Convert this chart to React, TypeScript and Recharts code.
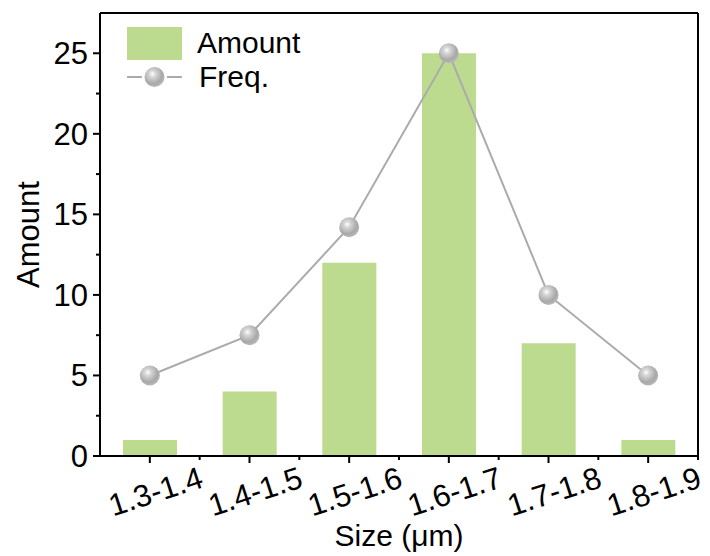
import React from "react";
import {
  ComposedChart,
  Bar,
  Line,
  XAxis,
  YAxis,
} from "recharts";

const sizes = ["1.3-1.4", "1.4-1.5", "1.5-1.6", "1.6-1.7", "1.7-1.8", "1.8-1.9"];
const amounts = [1, 4, 12, 25, 7, 1];
const freqs = [5, 7.5, 14.2, 25, 10, 5];
const yTicks = [0, 2.5, 5, 7.5, 10, 12.5, 15, 17.5, 20, 22.5, 25];

const data = sizes.map((s, i) => ({ size: s, amount: amounts[i], freq: freqs[i] }));

const FONT = "'Liberation Sans', Arial, sans-serif";
const BAR = "#bddb8f";
const LINE = "#ababab";

function Sphere({ cx, cy, r, id }: { cx: number; cy: number; r: number; id: string }) {
  return (
    <g>
      <defs>
        <radialGradient id={id} cx="40%" cy="35%" r="65%">
          <stop offset="0%" stopColor="#ffffff" />
          <stop offset="25%" stopColor="#d6d6d6" />
          <stop offset="75%" stopColor="#a8a8a8" />
          <stop offset="100%" stopColor="#b8b8b8" />
        </radialGradient>
      </defs>
      <circle cx={cx} cy={cy} r={r} fill={`url(#${id})`} />
    </g>
  );
}

const renderDot = (props: any) => {
  const { cx, cy, index } = props;
  return <Sphere key={`dot-${index}`} cx={cx} cy={cy} r={10} id={`sph-${index}`} />;
};

const XTick = (props: any) => {
  const { x, y, payload, width, visibleTicksCount } = props;
  const band = width / (visibleTicksCount || sizes.length);
  const tx = x + 6;
  const ty = y + 38;
  return (
    <g>
      <line x1={x} y1={y - 8} x2={x} y2={y - 1} stroke="#000" strokeWidth={2} />
      <line x1={x + band / 2} y1={y - 8} x2={x + band / 2} y2={y - 4} stroke="#000" strokeWidth={2} />
      <text
        x={tx}
        y={ty}
        textAnchor="middle"
        fontSize={31}
        fontFamily={FONT}
        fill="#000"
        transform={`rotate(-18, ${tx}, ${ty - 10})`}
      >
        {payload.value}
      </text>
    </g>
  );
};

const YTick = (props: any) => {
  const { x, y, payload } = props;
  const major = payload.value % 5 === 0;
  return (
    <g>
      <line x1={x + 8} y1={y} x2={x + (major ? 1 : 4)} y2={y} stroke="#000" strokeWidth={2} />
      {major && (
        <text x={x - 4} y={y + 11} textAnchor="end" fontSize={31} fontFamily={FONT} fill="#000">
          {payload.value}
        </text>
      )}
    </g>
  );
};

function ChartLegend() {
  return (
    <div
      style={{
        position: "absolute",
        left: 127,
        top: 26,
        fontFamily: FONT,
        fontSize: 30,
        color: "#000",
        lineHeight: "34px",
      }}
    >
      <div style={{ display: "flex", alignItems: "center" }}>
        <div style={{ width: 55, height: 33, background: BAR, marginRight: 15 }} />
        <span>Amount</span>
      </div>
      <div style={{ display: "flex", alignItems: "center" }}>
        <svg width={55} height={24} style={{ marginRight: 17 }}>
          <line x1={0} y1={12} x2={55} y2={12} stroke={LINE} strokeWidth={2} />
          <rect x={15} y={0} width={25} height={24} fill="#fff" />
          <Sphere cx={27.5} cy={12} r={10} id="sph-legend" />
        </svg>
        <span>Freq.</span>
      </div>
    </div>
  );
}

export default function App() {
  return (
    <div style={{ position: "absolute", left: 0, top: 0, width: 710, height: 556, background: "#fff" }}>
      <ComposedChart
        width={710}
        height={556}
        data={data}
        margin={{ top: 12, right: 11, bottom: 0, left: 0 }}
        barCategoryGap={0}
      >
        <XAxis
          dataKey="size"
          xAxisId="bottom"
          height={100}
          axisLine={{ stroke: "#000", strokeWidth: 2 }}
          tickLine={false}
          tick={<XTick />}
          interval={0}
          label={{
            value: "Size (μm)",
            position: "insideBottom",
            offset: 10,
            style: { fontSize: 30, fontFamily: FONT, fill: "#000" },
          }}
        />
        <XAxis
          dataKey="size"
          xAxisId="top"
          orientation="top"
          height={1}
          axisLine={{ stroke: "#000", strokeWidth: 2 }}
          tickLine={false}
          tick={false}
        />
        <YAxis
          yAxisId="left"
          width={100}
          domain={[0, 27.5]}
          ticks={yTicks}
          interval={0}
          axisLine={{ stroke: "#000", strokeWidth: 2 }}
          tickLine={false}
          tick={<YTick />}
          label={{
            value: "Amount",
            angle: -90,
            position: "insideLeft",
            offset: 28,
            style: { fontSize: 31, fontFamily: FONT, fill: "#000", textAnchor: "middle" },
          }}
        />
        <YAxis
          yAxisId="right"
          orientation="right"
          width={1}
          domain={[0, 27.5]}
          axisLine={{ stroke: "#000", strokeWidth: 2 }}
          tickLine={false}
          tick={false}
        />
        <Bar
          dataKey="amount"
          name="Amount"
          xAxisId="bottom"
          yAxisId="left"
          fill={BAR}
          barSize={54}
          isAnimationActive={false}
        />
        <Line
          dataKey="freq"
          name="Freq."
          xAxisId="bottom"
          yAxisId="left"
          type="linear"
          stroke={LINE}
          strokeWidth={2}
          dot={renderDot}
          activeDot={false}
          isAnimationActive={false}
        />
      </ComposedChart>
      <ChartLegend />
    </div>
  );
}
